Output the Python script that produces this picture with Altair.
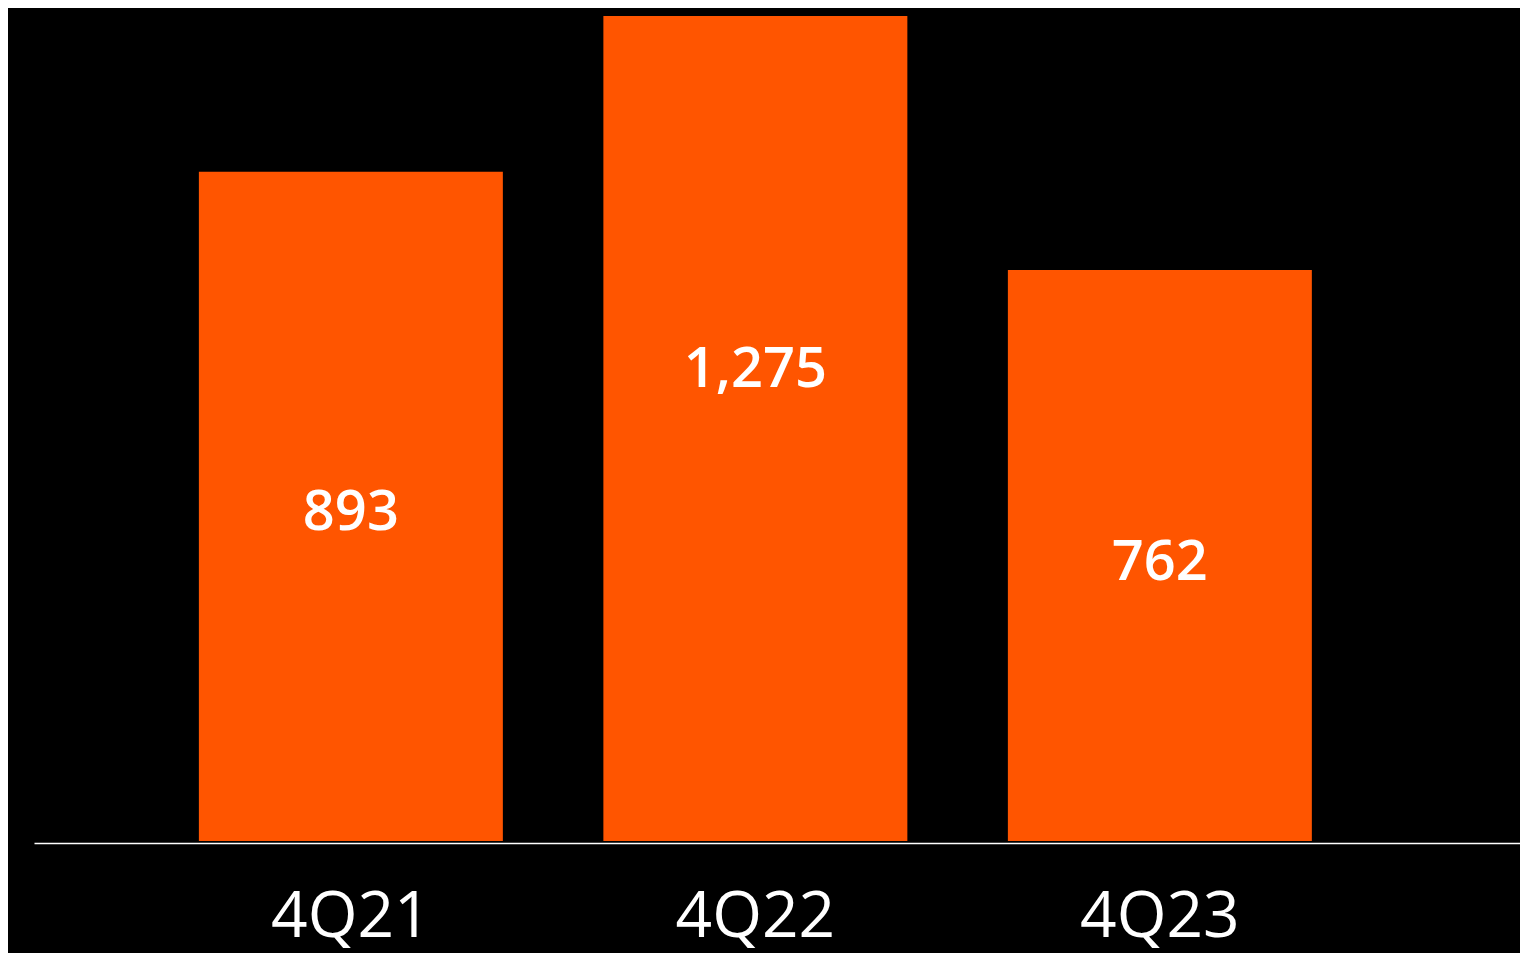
import altair as alt
import pandas as pd

quarters = ["4Q21", "4Q22", "4Q23"]
values = [893, 1275, 762]

df = pd.DataFrame({"quarter": quarters, "value": values})
df["half"] = df["value"] / 2

x = alt.X(
    "quarter:N",
    sort=quarters,
    title=None,
    scale=alt.Scale(paddingInner=0.2485, paddingOuter=0.4611, align=0.442),
    axis=alt.Axis(
        domainColor="white",
        domainWidth=1.5,
        offset=2,
        ticks=False,
        labelAngle=0,
        labelColor="white",
        labelFont="Open Sans",
        labelFontWeight=400,
        labelFontSize=64,
        labelPadding=93,
        labelBaseline="alphabetic",
    ),
)

yscale = alt.Scale(domain=[0, 1101], nice=False, zero=True)

bars = alt.Chart(df).mark_bar(color="#FF5500", clip=True).encode(
    x=x,
    y=alt.Y("value:Q", scale=yscale, axis=None),
)

labels = alt.Chart(df).mark_text(
    color="white", font="Open Sans", fontWeight=600, fontSize=56,
    baseline="middle", dy=7,
).encode(
    x=alt.X("quarter:N", sort=quarters),
    y=alt.Y("half:Q", scale=yscale, axis=None),
    text=alt.Text("value:Q", format=","),
)

chart = (
    alt.layer(bars, labels)
    .properties(
        width=1486,
        height=825,
        background="black",
        padding={"left": 26, "top": 8, "right": 0, "bottom": 112},
        autosize=alt.AutoSizeParams(type="none"),
    )
    .configure_view(stroke=None)
)
chart.save("out.html", embed_options={"renderer": "svg", "actions": False})
